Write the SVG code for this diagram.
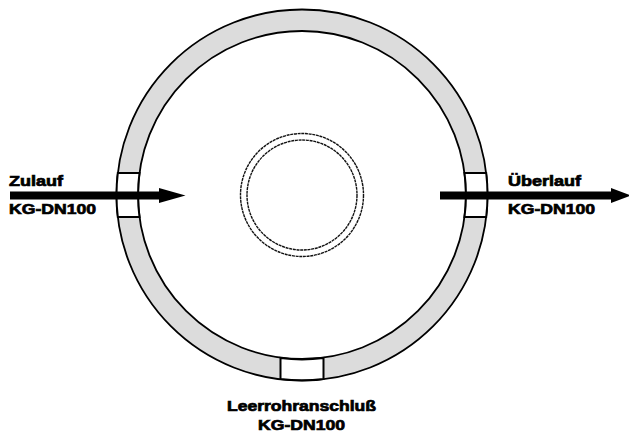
<svg xmlns="http://www.w3.org/2000/svg" width="629" height="434" viewBox="0 0 629 434">
<defs>
<style>
.ln{fill:none;stroke:#000;stroke-width:1.8}
.dash{fill:none;stroke:#111;stroke-width:1.4;stroke-dasharray:3 .7}
.win{fill:#fff;stroke:#000;stroke-width:2}
.lbl{font-family:"Liberation Sans",Arial,sans-serif;font-weight:700;font-size:14.500px;fill:#000;stroke:#000;stroke-width:.7}
.arr{fill:#000}
</style>
</defs>
<rect width="629" height="434" fill="#fff"/>
<g id="ring">
<circle cx="302" cy="195" r="175" fill="none" stroke="#dcdcdc" stroke-width="22"/>
<circle class="ln" cx="302" cy="195" r="185.500"/>
<circle class="ln" cx="302" cy="195" r="164"/>
</g>
<g id="inner-pipe">
<circle class="dash" cx="302" cy="195" r="61.500"/>
<circle class="dash" cx="302" cy="195" r="55"/>
</g>
<g id="inlet-window"><path class="win" d="M117.800 173A185.500 185.500 0 0 0 117.800 217L139.500 217A164 164 0 0 1 139.500 173Z"/></g>
<g id="outlet-window"><path class="win" d="M486.200 173A185.500 185.500 0 0 1 486.200 217L464.500 217A164 164 0 0 0 464.500 173Z"/></g>
<g id="conduit-window"><path class="win" d="M280.500 358A164 164 0 0 0 323.500 358V379A185.500 185.500 0 0 1 280.500 379Z"/></g>
<g id="connectors">
<path class="arr" d="M10 191.500H159V188L185.500 195.500L159 203V199.500H10Z"/>
<path class="arr" d="M440 191.500H611V188L631 195.500L611 203V199.500H440Z"/>
</g>
<g id="inlet-label">
<text class="lbl" x="9" y="186" textLength="54" lengthAdjust="spacingAndGlyphs">Zulauf</text>
<text class="lbl" x="9" y="213.500" textLength="87" lengthAdjust="spacingAndGlyphs">KG-DN100</text>
</g>
<g id="outlet-label">
<text class="lbl" x="508" y="186" textLength="73" lengthAdjust="spacingAndGlyphs">Überlauf</text>
<text class="lbl" x="508" y="213.500" textLength="87" lengthAdjust="spacingAndGlyphs">KG-DN100</text>
</g>
<g id="conduit-label">
<text class="lbl" x="227" y="411" textLength="149" lengthAdjust="spacingAndGlyphs">Leerrohranschluß</text>
<text class="lbl" x="258" y="429.500" textLength="87" lengthAdjust="spacingAndGlyphs">KG-DN100</text>
</g>
</svg>
